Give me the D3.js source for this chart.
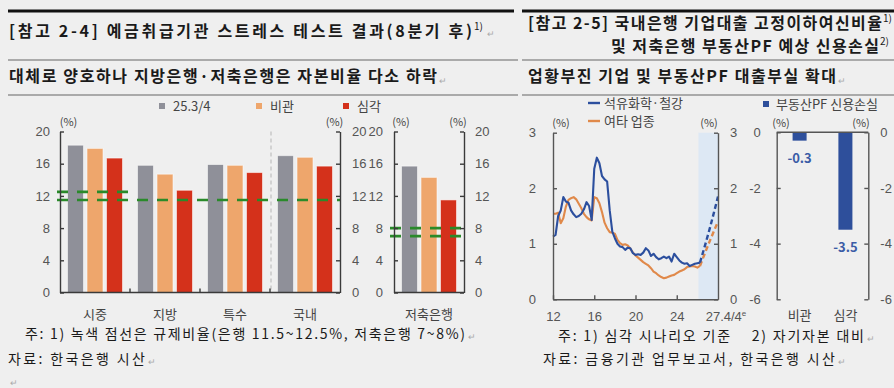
<!DOCTYPE html>
<html>
<head>
<meta charset="utf-8">
<script src="https://cdn.jsdelivr.net/npm/d3@7"></script>
<style>
  body { margin: 0; background: #efefef; }
  svg { display: block; }
  text { font-family: "Noto Sans CJK KR", "Noto Sans", sans-serif; }
  .num { font-family: "Liberation Sans", Arial, sans-serif; font-size: 13px; fill: #555; }
  .pre { white-space: pre; }
</style>
</head>
<body>
<script>
// ---- data: 예금취급기관 스트레스 테스트 (BIS 자본비율, %)
const institutions = ['시중', '지방', '특수', '국내', '저축은행']
const scenarioNames = ['25.3/4', '비관', '심각']
const scenarioColors = ['#8f9099', '#eea66c', '#d4311b']
const ratioBase = [18.3, 15.8, 15.9, 17.0, 15.7]
const ratioAdverse = [17.9, 14.7, 15.8, 16.8, 14.3]
const ratioSevere = [16.7, 12.7, 14.9, 15.7, 11.5]
const bankReg = [12.5, 11.5]
const savingsReg = [8, 7]
const ratioTicks = [0, 4, 8, 12, 16, 20]

// ---- data: 고정이하여신비율 (%), 분기
const quarters = d3.range(0, 58).map(i => 12 + i / 4)
const petroSteel = [1.13, 1.16, 1.50, 1.60, 1.84, 1.76, 1.74, 1.60, 1.53, 1.48,
  1.50, 1.54, 1.62, 1.75, 1.68, 1.43, 2.35, 2.55, 2.45, 2.22,
  2.16, 2.12, 1.60, 1.22, 1.10, 1.00, 0.95, 0.94, 0.89, 0.93,
  0.92, 0.83, 0.80, 0.81, 0.80, 0.84, 0.92, 0.88, 0.78, 0.82,
  0.76, 0.72, 0.74, 0.77, 0.74, 0.77, 0.68, 0.82, 0.76, 0.70,
  0.66, 0.64, 0.65, 0.60, 0.62, 0.64, 0.65, 0.66]
const otherInd = [1.54, 1.54, 1.56, 1.37, 1.46, 1.67, 1.79, 1.82, 1.84, 1.80,
  1.72, 1.64, 1.54, 1.48, 1.44, 1.42, 1.84, 1.82, 1.73, 1.57,
  1.38, 1.28, 1.21, 1.20, 1.18, 1.07, 1.01, 0.98, 0.99, 0.97,
  0.91, 0.84, 0.79, 0.75, 0.71, 0.67, 0.64, 0.61, 0.56, 0.50,
  0.47, 0.43, 0.40, 0.38, 0.39, 0.41, 0.43, 0.44, 0.47, 0.50,
  0.52, 0.54, 0.58, 0.59, 0.60, 0.59, 0.57, 0.60]
const fcTime = [26.25, 27.25, 28]
const petroSteelFc = [0.66, 1.31, 1.85]
const otherIndFc = [0.60, 1.07, 1.40]
const fcStart = 26.1
const lineTicks = [0, 1, 2, 3]
const yearTicks = [12, 16, 20, 24]

// ---- data: 저축은행 부동산PF 예상 신용손실 (자기자본 대비, %)
const pfScenarios = ['비관', '심각']
const pfLoss = [-0.3, -3.5]
const pfTicks = [-6, -4, -2, 0]

const plain = d => String(d)

const svg = d3.select('body').append('svg')
  .attr('width', 894).attr('height', 388)

svg.append('rect').attr('width', 894).attr('height', 388).attr('fill', '#efefef')

// ---- header rules and titles
const rules = [
  [8, 514, 11, 3, '#111'], [522, 894, 11, 3, '#111'],
  [8, 518, 60, 1.2, '#666'], [522, 894, 60, 1.2, '#666'],
  [8, 518, 95, 1.2, '#666'], [522, 894, 95, 1.2, '#666']
]
rules.forEach(r => {
  svg.append('line').attr('x1', r[0]).attr('x2', r[1]).attr('y1', r[2]).attr('y2', r[2])
    .attr('stroke', r[4]).attr('stroke-width', r[3])
})

function title(x, y, str, len, size, weight) {
  return svg.append('text').attr('x', x).attr('y', y)
    .attr('font-size', size).attr('font-weight', weight).attr('fill', '#1a1a1a')
    .attr('textLength', len).attr('lengthAdjust', 'spacing')
    .attr('class', 'pre')
    .text(str)
}
function sup(x, y, str) {
  svg.append('text').attr('x', x).attr('y', y).attr('font-size', 10)
    .attr('fill', '#1a1a1a').text(str)
}
function mark(x, y) {
  svg.append('text').attr('x', x).attr('y', y).attr('font-size', 9)
    .attr('fill', '#aaa').text('↵')
}

title(9, 37, '[참고 2-4] 예금취급기관 스트레스 테스트 결과(8분기 후)', 463, 16, 'bold')
sup(474, 30, '1)'); mark(487, 37)
title(9, 82, '대체로 양호하나 지방은행·저축은행은 자본비율 다소 하락', 428, 16, 'bold')
mark(439, 84)
title(528, 29, '[참고 2-5] 국내은행 기업대출 고정이하여신비율', 354, 16, 'bold')
sup(883, 22, '1)')
title(611, 52, '및 저축은행 부동산PF 예상 신용손실', 268, 16, 'bold')
sup(880, 45, '2)')
title(528, 82, '업황부진 기업 및 부동산PF 대출부실 확대', 308, 16, 'bold')
mark(838, 84)

// ---- footnotes
title(25, 339, '주: 1) 녹색 점선은 규제비율(은행 11.5~12.5%, 저축은행 7~8%)', 440, 14, 'normal')
mark(468, 340)
title(8, 364, '자료: 한국은행 시산', 137, 14, 'normal')
mark(148, 365)
mark(10, 386)
title(558, 341, '주: 1) 심각 시나리오 기준    2) 자기자본 대비', 306, 14, 'normal')
mark(867, 342)
title(543, 364, '자료: 금융기관 업무보고서, 한국은행 시산', 292, 14, 'normal')
mark(838, 365)

// ---- helpers
function styleAxis(g, color) {
  g.select('.domain').attr('stroke', color).attr('stroke-width', 1.4)
  g.selectAll('.tick line').attr('stroke', color).attr('stroke-width', 1.4)
  g.selectAll('.tick text').attr('class', 'num').attr('fill', null)
  g.attr('font-size', null).attr('font-family', null)
}
function pct(x, y) {
  svg.append('text').attr('x', x).attr('y', y).attr('text-anchor', 'middle')
    .attr('font-size', 11).attr('fill', '#444').text('(%)')
}

// ============ left panel: capital ratio bars ============
const yRatio = d3.scaleLinear().domain([0, 20]).range([292.5, 131.5])
const xBank = d3.scaleBand().domain(institutions.slice(0, 4)).range([60, 340])
const xSav = d3.scaleBand().domain(institutions.slice(4)).range([394, 464])
const xScen = d3.scaleBand().domain(scenarioNames).range([0, 70])
  .paddingInner(0.18).paddingOuter(0.385)
const series = [ratioBase, ratioAdverse, ratioSevere]

const barData = []
institutions.forEach((inst, i) => {
  scenarioNames.forEach((s, j) => {
    barData.push({ inst, scen: s, value: series[j][i], color: scenarioColors[j] })
  })
})
const groupX = inst => (inst === '저축은행' ? xSav(inst) : xBank(inst))

svg.append('g').selectAll('rect').data(barData).join('rect')
  .attr('x', d => groupX(d.inst) + xScen(d.scen))
  .attr('width', xScen.bandwidth())
  .attr('y', d => yRatio(d.value))
  .attr('height', d => yRatio(0) - yRatio(d.value))
  .attr('fill', d => d.color)
  .attr('stroke', 'rgba(255,255,255,0.55)').attr('stroke-width', 1)

// separator before 국내
svg.append('line')
  .attr('x1', xBank('국내') + 1).attr('x2', xBank('국내') + 1)
  .attr('y1', yRatio(20)).attr('y2', yRatio(0))
  .attr('stroke', '#c9c9c9').attr('stroke-width', 1.5).attr('stroke-dasharray', '4,3')

// regulatory dashed lines
const regLines = [
  { v: bankReg[0], x1: 57, x2: xBank('지방') },
  { v: bankReg[1], x1: 57, x2: 340 },
  { v: savingsReg[0], x1: 390, x2: 467 },
  { v: savingsReg[1], x1: 390, x2: 467 }
]
svg.append('g').selectAll('line').data(regLines).join('line')
  .attr('x1', d => d.x1).attr('x2', d => d.x2)
  .attr('y1', d => yRatio(d.v)).attr('y2', d => yRatio(d.v))
  .attr('stroke', '#2a8a2a').attr('stroke-width', 2.6).attr('stroke-dasharray', '11,9')

// axes
const axColor = '#3a3a3a'
svg.append('g').attr('transform', 'translate(60,0)')
  .call(d3.axisLeft(yRatio).tickValues(ratioTicks).tickFormat(plain).tickSize(-4).tickSizeOuter(0).tickPadding(10))
  .call(g => styleAxis(g, axColor))
svg.append('g').attr('transform', 'translate(340,0)')
  .call(d3.axisRight(yRatio).tickValues(ratioTicks).tickFormat(plain).tickSize(-4).tickSizeOuter(0).tickPadding(12))
  .call(g => styleAxis(g, axColor))
svg.append('g').attr('transform', 'translate(394,0)')
  .call(d3.axisLeft(yRatio).tickValues(ratioTicks).tickFormat(plain).tickSize(-4).tickSizeOuter(0).tickPadding(11))
  .call(g => styleAxis(g, axColor))
svg.append('g').attr('transform', 'translate(464,0)')
  .call(d3.axisRight(yRatio).tickValues(ratioTicks).tickFormat(plain).tickSize(-4).tickSizeOuter(0).tickPadding(11))
  .call(g => styleAxis(g, axColor))

// bottom lines and group ticks
;[[60, 340], [394, 464]].forEach(r => {
  svg.append('line').attr('x1', r[0]).attr('x2', r[1])
    .attr('y1', yRatio(0)).attr('y2', yRatio(0))
    .attr('stroke', axColor).attr('stroke-width', 1.4)
})
svg.append('g').selectAll('line').data(institutions.slice(1, 4)).join('line')
  .attr('x1', d => xBank(d)).attr('x2', d => xBank(d))
  .attr('y1', yRatio(0)).attr('y2', yRatio(0) - 4)
  .attr('stroke', axColor).attr('stroke-width', 1.4)

svg.append('g').selectAll('text').data(institutions).join('text')
  .attr('x', d => groupX(d) + 35).attr('y', 319)
  .attr('text-anchor', 'middle').attr('font-size', 13).attr('fill', '#444')
  .text(d => d)

pct(68.5, 126); pct(334.5, 126); pct(401, 126); pct(458, 126)

// legend
const legX = [159, 256, 343]
scenarioNames.forEach((s, j) => {
  svg.append('rect').attr('x', legX[j]).attr('y', 103).attr('width', 6).attr('height', 6)
    .attr('fill', scenarioColors[j])
  svg.append('text').attr('x', legX[j] + 14).attr('y', 111)
    .attr('font-size', 13).attr('fill', '#444').text(s)
})

// ============ right panel: NPL ratio lines ============
const xLine = d3.scaleLinear().domain([12, 28]).range([553, 718])
const yLine = d3.scaleLinear().domain([0, 3]).range([299.3, 132.7])

svg.append('rect')
  .attr('x', xLine(fcStart)).attr('width', xLine(28) - xLine(fcStart))
  .attr('y', yLine(3)).attr('height', yLine(0) - yLine(3))
  .attr('fill', '#dde8f4')

const lineColors = ['#2c4f9e', '#e0894a']
const line = d3.line().x(d => xLine(d[0])).y(d => yLine(d[1]))
const fcLine = d3.line().x(d => xLine(d[0])).y(d => yLine(d[1])).curve(d3.curveMonotoneX)

;[[otherInd, otherIndFc, lineColors[1]], [petroSteel, petroSteelFc, lineColors[0]]].forEach(s => {
  svg.append('path').datum(quarters.map((q, i) => [q, s[0][i]]))
    .attr('d', line).attr('fill', 'none').attr('stroke', s[2])
    .attr('stroke-width', 2.1).attr('stroke-linejoin', 'round')
  svg.append('path').datum(fcTime.map((q, i) => [q, s[1][i]]))
    .attr('d', fcLine).attr('fill', 'none').attr('stroke', s[2])
    .attr('stroke-width', 2.4).attr('stroke-dasharray', '5,3')
})

const lnColor = '#555'
svg.append('g').attr('transform', 'translate(553,0)')
  .call(d3.axisLeft(yLine).tickValues(lineTicks).tickFormat(plain).tickSize(-4).tickSizeOuter(0).tickPadding(17))
  .call(g => styleAxis(g, lnColor))
svg.append('g').attr('transform', 'translate(718,0)')
  .call(d3.axisRight(yLine).tickValues(lineTicks).tickFormat(plain).tickSize(-4).tickSizeOuter(0).tickPadding(12))
  .call(g => styleAxis(g, lnColor))
svg.append('g').attr('transform', 'translate(0,299.3)')
  .call(d3.axisBottom(xLine).tickValues(yearTicks).tickFormat(plain).tickSize(-4).tickSizeOuter(0).tickPadding(12))
  .call(g => styleAxis(g, lnColor))
const lastLbl = svg.append('text').attr('class', 'num')
  .attr('x', xLine(28) + 8).attr('y', 321).attr('text-anchor', 'middle')
lastLbl.append('tspan').text('27.4/4')
lastLbl.append('tspan').attr('font-size', 8).attr('dy', -5).text('e')

pct(561, 127); pct(709, 127)

// legend
const lineNames = ['석유화학·철강', '여타 업종']
lineNames.forEach((n, k) => {
  const y = 103 + k * 18
  svg.append('line').attr('x1', 588).attr('x2', 600).attr('y1', y).attr('y2', y)
    .attr('stroke', lineColors[k]).attr('stroke-width', 2.4)
  svg.append('text').attr('x', 604).attr('y', y + 5)
    .attr('font-size', 13).attr('fill', '#444').text(n)
})

// ============ right panel: PF credit loss bars ============
const xPF = d3.scaleBand().domain(pfScenarios).range([776.7, 868.3])
  .paddingInner(0.694).paddingOuter(0.347)
const yPF = d3.scaleLinear().domain([-6, 0]).range([299.3, 132.3])
const pfColor = '#2e4f9b'

svg.append('g').selectAll('rect').data(pfScenarios).join('rect')
  .attr('x', d => xPF(d)).attr('width', xPF.bandwidth())
  .attr('y', yPF(0)).attr('height', (d, i) => yPF(pfLoss[i]) - yPF(0))
  .attr('fill', pfColor)

svg.append('g').selectAll('text').data(pfScenarios).join('text')
  .attr('x', d => xPF(d) + xPF.bandwidth() / 2)
  .attr('y', (d, i) => yPF(pfLoss[i]) + 22)
  .attr('text-anchor', 'middle').attr('font-family', '"Liberation Sans", Arial, sans-serif')
  .attr('font-size', 13).attr('font-weight', 'bold').attr('fill', '#3b5ca6')
  .text((d, i) => pfLoss[i].toFixed(1))

svg.append('g').attr('transform', 'translate(776.7,0)')
  .call(d3.axisLeft(yPF).tickValues(pfTicks).tickFormat(plain).tickSize(-4).tickSizeOuter(0).tickPadding(16))
  .call(g => styleAxis(g, lnColor))
svg.append('g').attr('transform', 'translate(868.3,0)')
  .call(d3.axisRight(yPF).tickValues(pfTicks).tickFormat(plain).tickSize(-4).tickSizeOuter(0).tickPadding(12))
  .call(g => styleAxis(g, lnColor))
svg.append('line').attr('x1', 776.7).attr('x2', 868.3)
  .attr('y1', yPF(0)).attr('y2', yPF(0))
  .attr('stroke', lnColor).attr('stroke-width', 1.4)

svg.append('g').selectAll('text').data(pfScenarios).join('text')
  .attr('x', d => xPF(d) + xPF.bandwidth() / 2).attr('y', 320)
  .attr('text-anchor', 'middle').attr('font-size', 13).attr('fill', '#444')
  .text(d => d)

pct(781, 127); pct(861, 127)

svg.append('rect').attr('x', 763).attr('y', 101).attr('width', 6).attr('height', 6)
  .attr('fill', pfColor)
svg.append('text').attr('x', 776).attr('y', 109)
  .attr('font-size', 13).attr('fill', '#444').text('부동산PF 신용손실')
</script>
</body>
</html>
